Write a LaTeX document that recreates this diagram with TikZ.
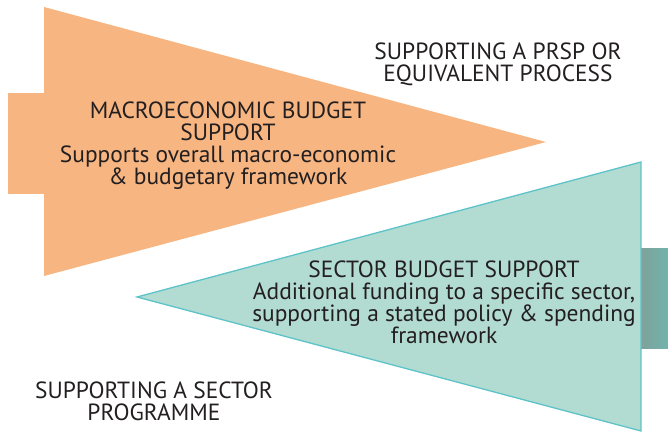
\documentclass[tikz,border=0pt]{standalone}
\usepackage{fontspec}
\setmainfont{PT Sans}
\usepackage{tikz}
\usetikzlibrary{positioning}
\definecolor{softorange}{HTML}{F7B581}
\definecolor{softteal}{HTML}{B2DBD2}
\definecolor{tealaccent}{HTML}{5CC3C8}
\definecolor{tabteal}{HTML}{72B3AC}
\definecolor{tabtealdark}{HTML}{7DA29B}
\definecolor{inkgray}{HTML}{231F20}
\tikzset{
  textblock/.style={align=center, inner sep=0pt, text=inkgray, font=\fontsize{20}{18.8}\selectfont},
  orangewedge/.style={fill=softorange},
  tealwedge/.style={fill=softteal, draw=tealaccent, line width=1.1pt, line join=miter}
}

\begin{document}
\begin{tikzpicture}[x=0.03cm,y=-0.03cm]
  \useasboundingbox (0,0) rectangle (668,432);

  % side tabs
  \shade[left color=tabtealdark, right color=tabteal] (641,249) rectangle (668,349);
  \fill[orangewedge] (8,93) rectangle (44,194);

  % wedges
  \fill[orangewedge] (44,7) -- (546,142) -- (44,276) -- cycle;
  \filldraw[tealwedge] (641,162) -- (137,297) -- (641,431) -- cycle;

  \node[textblock] (macro) at (228,146) {MACROECONOMIC BUDGET\\SUPPORT\\Supports overall macro-economic\\\& budgetary framework};
  \node[textblock] (sector) at (444,302) {SECTOR BUDGET SUPPORT\\Additional funding to a specific sector,\\supporting a stated policy \& spending\\framework};
  \node[textblock] (prsp) at (498,64) {SUPPORTING A PRSP OR\\EQUIVALENT PROCESS};
  \node[textblock] (programme) at (154,401) {SUPPORTING A SECTOR\\PROGRAMME};
\end{tikzpicture}
\end{document}
